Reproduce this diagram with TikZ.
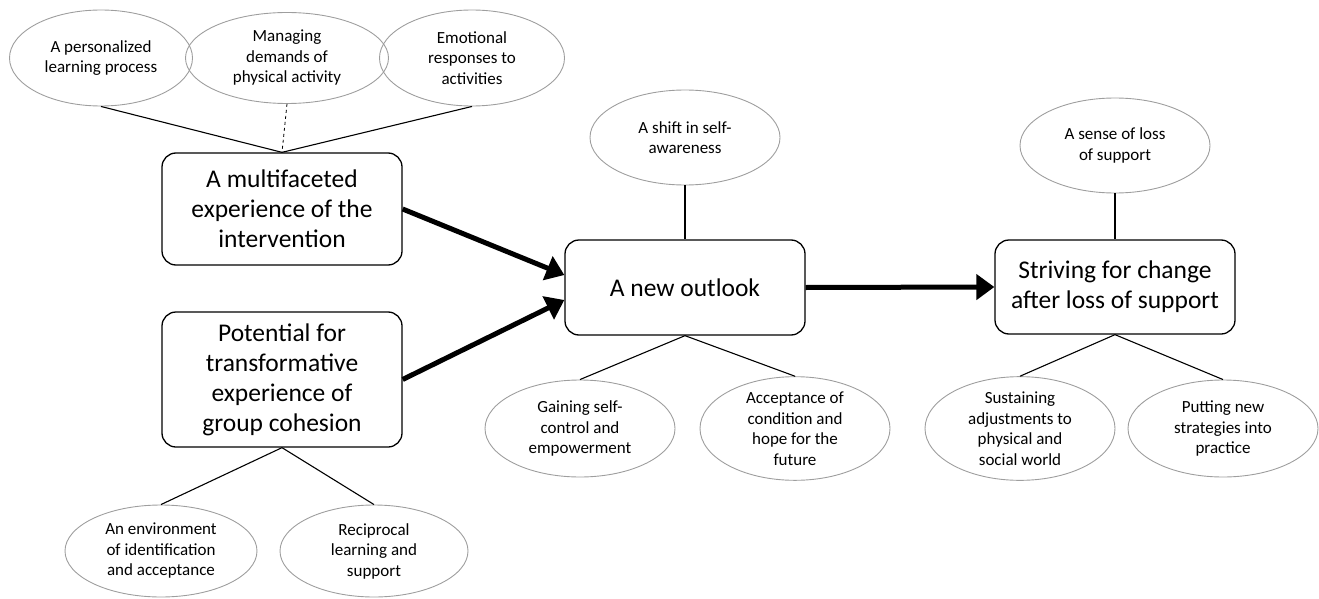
\documentclass[tikz,border=0pt]{standalone}
\usepackage{fontspec}
\setmainfont{Carlito}
\usetikzlibrary{shapes.geometric,arrows.meta}
\tikzset{
  oval/.style={ellipse, draw=black!38, line width=0.9pt, inner sep=0pt, align=center,
    minimum width=190pt, minimum height=95pt, font=\fontsize{17}{20.5}\selectfont},
  mainbox/.style={draw=black, line width=1.3pt, rounded corners=14pt, align=center,
    minimum width=240pt, inner sep=0pt, font=\fontsize{25.5}{30}\selectfont},
  link/.style={draw=black, line width=1.1pt},
  bigarrow/.style={draw=black, line width=5pt, -{Triangle[length=18pt,width=25pt]}}
}
\begin{document}
\begin{tikzpicture}[x=1pt,y=-1pt]
\useasboundingbox (0,0) rectangle (1319,599);
% top ellipses
\node[oval, minimum width=183pt, minimum height=96pt] (e1) at (101,58) {A personalized\\learning process};
\node[oval, minimum width=203pt, minimum height=91pt] (e2) at (287,58) {Managing\\demands of\\physical activity};
\node[oval, minimum width=185pt, minimum height=96pt] (e3) at (472,58) {Emotional\\responses to\\activities};
% main boxes
\node[mainbox, minimum height=112pt] (b1) at (282,209) {A multifaceted\\experience of the\\intervention};
\node[mainbox, minimum height=135pt] (b2) at (282,379.5) {Potential for\\transformative\\experience of\\group cohesion};
\node[mainbox, minimum height=95pt] (nb) at (685,287.5) {A new outlook};
\node[mainbox, minimum height=94pt] (sb) at (1115,287) {Striving for change\\after loss of support};
% bottom-left ellipses
\node[oval, minimum width=192pt, minimum height=92pt] (e4) at (161,551) {An environment\\of identification\\and acceptance};
\node[oval, minimum width=188pt, minimum height=92pt] (e5) at (374,551) {Reciprocal\\learning and\\support};
% new outlook ellipses
\node[oval] (e6) at (685,137.5) {A shift in self-\\awareness};
\node[oval, minimum height=97pt] (e7) at (580,428.5) {Gaining self-\\control and\\empowerment};
\node[oval, minimum height=97pt] (e8) at (795,428.5) {Acceptance of\\condition and\\hope for the\\future};
% striving ellipses
\node[oval] (e9) at (1115,145.5) {A sense of loss\\of support};
\node[oval, minimum height=97pt] (e10) at (1020,428.5) {Sustaining\\adjustments to\\physical and\\social world};
\node[oval, minimum height=97pt] (e11) at (1223,428.5) {Putting new\\strategies into\\practice};
% connectors
\draw[link] (e1.south) -- (b1.north);
\draw[link, dashed, line width=0.8pt] (e2.south) -- (b1.north);
\draw[link] (e3.south) -- (b1.north);
\draw[link] (b2.south) -- (e4.north);
\draw[link] (b2.south) -- (e5.north);
\draw[link] (e6.south) -- (nb.north);
\draw[link] (nb.south) -- (e7.north);
\draw[link] (nb.south) -- (e8.north);
\draw[link] (e9.south) -- (sb.north);
\draw[link] (sb.south) -- (e10.north);
\draw[link] (sb.south) -- (e11.north);
% arrows
\draw[bigarrow] (b1.east) -- ([yshift=12.5pt]nb.west);
\draw[bigarrow] (b2.east) -- ([yshift=-12.5pt]nb.west);
\draw[bigarrow] (nb.east) -- (sb.west);
\end{tikzpicture}
\end{document}
